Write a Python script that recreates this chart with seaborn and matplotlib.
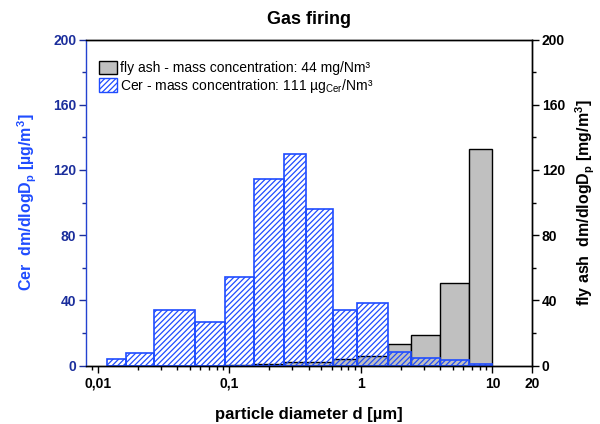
import numpy as np
import pandas as pd
import matplotlib
matplotlib.use("Agg")
import matplotlib.pyplot as plt
import matplotlib.ticker as mticker
from matplotlib.patches import Patch
import seaborn as sns

# ---- data ----
bin_edges = [0.01165, 0.01644, 0.0268, 0.0543, 0.092, 0.1525, 0.260, 0.382,
             0.608, 0.937, 1.60, 2.40, 3.96, 6.67, 9.88]
cer_values = [4.1, 7.8, 34.3, 26.6, 54.2, 114.3, 130.0, 95.9, 34.3, 38.3,
              8.6, 4.7, 3.3, 1.2]
ash_values = [0.0, 0.0, 0.0, 0.0, 0.3, 0.9, 2.0, 2.3, 3.9, 5.8,
              13.1, 18.6, 50.5, 132.9]
x_ticks = [0.01, 0.1, 1, 10, 20]
x_ticklabels = ["0,01", "0,1", "1", "10", "20"]
y_ticks = [0, 40, 80, 120, 160, 200]

title = "Gas firing"
xlabel = "particle diameter d [µm]"
ylabel_left = "Cer  dm/dlogD$_\\mathregular{p}$ [µg/m$^\\mathregular{3}$]"
ylabel_right = "fly ash  dm/dlogD$_\\mathregular{p}$ [mg/m$^\\mathregular{3}$]"
leg_ash = "fly ash - mass concentration: 44 mg/Nm³"
leg_cer = "Cer - mass concentration: 111 µg$_\\mathregular{Cer}$/Nm³"

sns.set_theme(style="white")
plt.rcParams['font.family'] = ['Liberation Sans', 'DejaVu Sans']
plt.rcParams['text.color'] = 'black'
plt.rcParams['axes.labelcolor'] = 'black'
plt.rcParams['hatch.linewidth'] = 0.9
plt.rcParams['mathtext.fontset'] = 'custom'
plt.rcParams['mathtext.rm'] = 'Liberation Sans:bold'
plt.rcParams['mathtext.it'] = 'Liberation Sans:bold'
plt.rcParams['mathtext.bf'] = 'Liberation Sans:bold'

BLUE = "#1f4cff"
NAVY = "#1b2e9c"
SPINE_BLUE = "#2342d0"

edges = np.array(bin_edges)
mids = np.sqrt(edges[:-1] * edges[1:])
log_bins = [float(v) for v in np.log10(edges)]

df_cer = pd.DataFrame({"d": mids, "v": cer_values})
df_ash = pd.DataFrame({"d": mids, "v": ash_values})

fig = plt.figure(figsize=(6, 4.24), dpi=100)
ax = fig.add_axes([0.1433, 0.1375, 0.7434, 0.7693])
ax2 = ax.twinx()

# fly ash (right axis), drawn behind
sns.histplot(data=df_ash, x="d", weights="v", bins=log_bins, log_scale=True,
             ax=ax2, color="#c0c0c0", edgecolor="black", linewidth=1.0,
             alpha=1.0, legend=False)
# Cer (left axis), hatched, transparent
sns.histplot(data=df_cer, x="d", weights="v", bins=log_bins, log_scale=True,
             ax=ax, fill=False, edgecolor=BLUE, linewidth=1.2, legend=False)
for p in ax.patches:
    p.set_hatch("//////")
    p.set_facecolor("none")
    p.set_edgecolor(BLUE)

ax.set_zorder(ax2.get_zorder() + 1)
ax.patch.set_visible(False)

for a in (ax, ax2):
    a.set_xscale("log")
    a.set_xlim(0.0081, 20)
    a.set_ylim(0, 200)
    a.set_yticks(y_ticks)
    a.yaxis.set_minor_locator(mticker.MultipleLocator(20))
    a.set_xlabel("")
    a.set_ylabel("")

ax.set_xticks(x_ticks)
ax.set_xticklabels(x_ticklabels)
ax.xaxis.set_minor_locator(mticker.LogLocator(base=10, subs=np.arange(2, 10)))
ax.xaxis.set_minor_formatter(mticker.NullFormatter())

ax.tick_params(axis="x", which="major", direction="out", length=5, width=1,
               bottom=True, top=False, labelsize=10, colors="black", pad=3)
ax.tick_params(axis="x", which="minor", direction="out", length=3, width=1,
               bottom=True, top=False, color="black")
ax.tick_params(axis="y", which="major", direction="out", length=5, width=1,
               left=True, right=False, labelsize=10, colors=NAVY, pad=2)
ax.tick_params(axis="y", which="minor", direction="out", length=3, width=1,
               left=True, right=False, color=NAVY)
ax2.tick_params(axis="y", which="major", direction="out", length=5, width=1,
                right=True, left=False, labelsize=10, colors="black", pad=2)
ax2.tick_params(axis="y", which="minor", direction="out", length=3, width=1,
                right=True, left=False, color="black")
ax2.tick_params(axis="x", which="both", bottom=False, top=False,
                labelbottom=False)

for lab in ax.get_xticklabels() + ax.get_yticklabels() + ax2.get_yticklabels():
    lab.set_fontweight("bold")

for a in (ax, ax2):
    for s in a.spines.values():
        s.set_visible(True)
        s.set_linewidth(1.0)
        s.set_color("black")
ax.spines["left"].set_color(SPINE_BLUE)
ax2.spines["left"].set_visible(False)

ax.set_xlabel(xlabel, fontsize=12, fontweight="bold", labelpad=12)
ax.set_ylabel(ylabel_left, fontsize=11.5, fontweight="bold", color=BLUE,
              labelpad=10)
ax2.set_ylabel(ylabel_right, fontsize=11.5, fontweight="bold", color="black",
               labelpad=6)
ax2.yaxis.set_label_position("right")
ax.set_title(title, fontsize=13, fontweight="bold", pad=11)

handles = [Patch(facecolor="#c0c0c0", edgecolor="black", linewidth=1.0),
           Patch(facecolor="white", edgecolor=BLUE, hatch="//////", linewidth=1.0)]
ax.legend(handles, [leg_ash, leg_cer], loc="upper left",
          bbox_to_anchor=(0.01, 0.96), frameon=False, fontsize=10,
          handlelength=1.3, handleheight=1.1, handletextpad=0.2,
          labelspacing=0.1, borderaxespad=0.2)

fig.savefig("out.png", dpi=100)
